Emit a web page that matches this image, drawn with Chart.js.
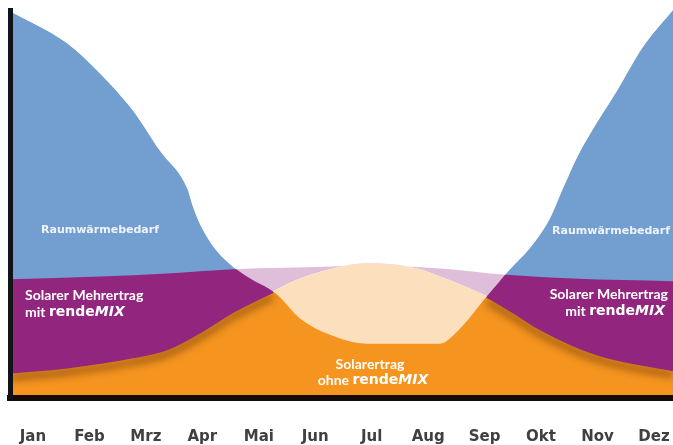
<!DOCTYPE html>
<html>
<head>
<meta charset="utf-8">
<script src="https://cdn.jsdelivr.net/npm/chart.js@4"></script>
<style>
html,body{margin:0;padding:0;background:#fff;overflow:hidden}
#wrap{width:673px;height:445px}
</style>
</head>
<body>
<div id="wrap"><canvas id="grafico"></canvas></div>
<script>
var monate=["Jan","Feb","Mrz","Apr","Mai","Jun","Jul","Aug","Sep","Okt","Nov","Dez"];

// x = Monat (0 = Jan), y = relative Menge 0..100
var waermeX=[-0.407,0.6,1.13,1.77,2.25,2.73,2.83,2.96,3.26,3.49,3.79,4.32,4.73,5.26,5.92,7.21,7.48,8.04,8.45,8.80,9.16,9.39,9.65,9.87,10.35,10.8,11.337];
var waermeY=[99.7,91.5,84.5,74.1,63.7,54.1,49.5,44.8,37.8,34.5,31.3,26.7,20.5,16.3,14.0,14.0,16.6,26.2,33.2,38.6,46.4,54.1,62.4,68.1,79.3,90.4,100];

var solarX=[-0.407,0.6,1.77,2.37,2.96,3.54,4.25,4.73,5.31,5.92,6.8,7.21,8.04,8.5,8.98,9.57,10.17,11.337];
var solarY=[6.7,8.0,10.6,12.7,17.1,22.3,27.5,30.8,33.4,34.7,33.4,31.3,26.2,22.3,17.9,13.7,10.6,7.3];

var mehrX=[-0.407,1.19,2.37,3.54,5.31,6.02,6.62,7.39,8.27,9.57,11.337];
var mehrY=[30.6,31.3,32.1,33.2,33.9,34.5,33.9,33.2,31.9,30.8,30.1];

var farben={blau:"#729fd0",lila:"#92267f",orange:"#f5951f",weiss:"rgba(255,255,255,0.7)"};

function punkte(xs,ys){
    var res=[];
    for(var i=0;i<xs.length;i++){
        res.push({x:xs[i],y:ys[i]});
    }
    return res;
}

function zeichneText(ctx,teile,x,y,align){
    var breite=0;
    teile.forEach(t=>{ ctx.font=t[1]; breite+=ctx.measureText(t[0]).width; });
    var start=x;
    if(align=="right") start=x-breite;
    if(align=="center") start=x-breite/2;
    ctx.textBaseline="middle";
    ctx.textAlign="left";
    teile.forEach(t=>{
        ctx.font=t[1];
        ctx.fillText(t[0],start,y);
        start+=ctx.measureText(t[0]).width;
    });
}

var schatten={
    id:"schatten",
    beforeDatasetDraw(chart,args){
        if(chart.data.datasets[args.index].schatten){
            var ctx=chart.ctx;
            ctx.shadowColor="rgba(45,12,5,0.9)";
            ctx.shadowBlur=9;
            ctx.shadowOffsetY=5;
        }
    },
    afterDatasetDraw(chart,args){
        if(chart.data.datasets[args.index].schatten){
            var ctx=chart.ctx;
            ctx.shadowColor="rgba(0,0,0,0)";
            ctx.shadowBlur=0;
            ctx.shadowOffsetY=0;
        }
    }
};

var texte={
    id:"texte",
    afterDraw(chart){
        var ctx=chart.ctx;
        ctx.save();
        var raum="bold 11px 'DejaVu Sans'";
        var norm="bold 14px Lato";
        var rende="bold 14px 'DejaVu Sans'";
        var mix="italic bold 14px 'DejaVu Sans'";
        ctx.fillStyle="rgba(255,255,255,0.88)";
        zeichneText(ctx,[["Raumwärmebedarf",raum]],100,230,"center");
        zeichneText(ctx,[["Raumwärmebedarf",raum]],670,231,"right");
        ctx.fillStyle="#fff";
        zeichneText(ctx,[["Solarer Mehrertrag",norm]],25,295,"left");
        zeichneText(ctx,[["mit ",norm],["rende",rende],["MIX",mix]],25,312,"left");
        zeichneText(ctx,[["Solarer Mehrertrag",norm]],668,294,"right");
        zeichneText(ctx,[["mit ",norm],["rende",rende],["MIX",mix]],665,311,"right");
        zeichneText(ctx,[["Solarertrag",norm]],370,364,"center");
        zeichneText(ctx,[["ohne ",norm],["rende",rende],["MIX",mix]],373,380,"center");
        ctx.restore();
    }
};

var ctx=document.getElementById("grafico").getContext("2d");
var chart=new Chart(ctx,{
    type:"line",
    data:{
        datasets:[
            {label:"Raumwärmebedarf",data:punkte(waermeX,waermeY),fill:"origin",backgroundColor:farben.blau,borderWidth:0,pointRadius:0,order:5},
            {label:"Solarertrag ohne rendeMIX",data:punkte(solarX,solarY),fill:"origin",backgroundColor:farben.orange,borderWidth:0,pointRadius:0,order:4},
            {label:"Schatten",data:punkte(solarX,solarY),fill:false,schatten:true,borderWidth:3,pointRadius:0,order:3,
                segment:{borderColor:c=>(c.p0.parsed.x>=4.2&&c.p1.parsed.x<=8.1)?"rgba(0,0,0,0)":farben.lila}},
            {label:"Solarer Mehrertrag mit rendeMIX",data:punkte(mehrX,mehrY),fill:{target:1,above:farben.lila,below:"rgba(0,0,0,0)"},borderWidth:0,pointRadius:0,order:2},
            {label:"Ueberdeckung",data:punkte(waermeX,waermeY),fill:"end",backgroundColor:farben.weiss,borderWidth:0,pointRadius:0,order:1}
        ]
    },
    options:{
        responsive:true,
        maintainAspectRatio:false,
        animation:false,
        elements:{line:{cubicInterpolationMode:"monotone"}},
        layout:{padding:{left:10,top:10,right:0,bottom:0}},
        plugins:{legend:{display:false},tooltip:{enabled:false}},
        scales:{
            x:{
                type:"linear",min:-0.407,max:11.337,
                afterBuildTicks:s=>{ s.ticks=monate.map((m,i)=>({value:i})); },
                afterFit:s=>{ s.height=47; s.paddingLeft=0; s.paddingRight=0; },
                ticks:{callback:v=>monate[Math.round(v)],autoSkip:false,maxRotation:0,padding:30,color:"#404040",font:{family:"DejaVu Sans",size:15,weight:"bold"}},
                grid:{display:false,drawTicks:false},
                border:{display:true,color:"#140a08",width:6,z:1}
            },
            y:{
                min:0,max:100,
                afterFit:s=>{ s.width=0; },
                ticks:{display:false},
                grid:{display:false,drawTicks:false},
                border:{display:true,color:"#111318",width:5,z:1}
            }
        }
    },
    plugins:[schatten,texte]
});
</script>
</body>
</html>
